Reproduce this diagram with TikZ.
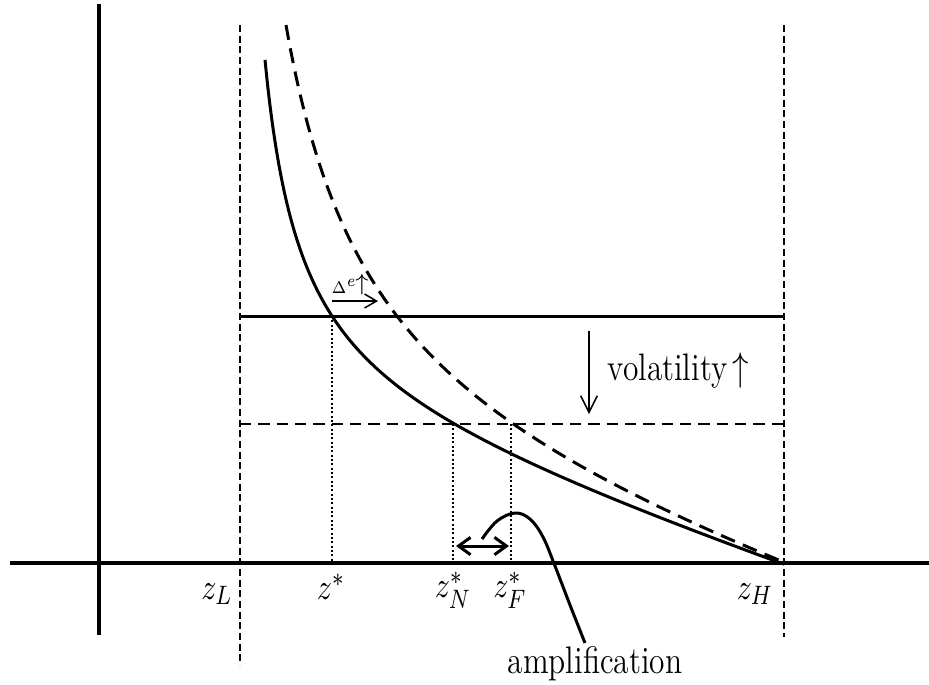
\documentclass[tikz,border=0pt]{standalone}
\usepackage{graphicx}
\usetikzlibrary{arrows.meta}
\newcommand{\sqz}[1]{\scalebox{0.82}[1]{#1}}
\begin{document}
\begin{tikzpicture}[x=0.3pt,y=-0.3pt,
  axis/.style={line width=1.1pt},
  curve/.style={line width=0.9pt},
  dcurve/.style={line width=0.9pt, dash pattern=on 4.5pt off 2.6pt},
  bnd/.style={line width=0.55pt, dash pattern=on 2.1pt off 1.1pt},
  guide/.style={line width=0.6pt, dash pattern=on 0.6pt off 0.7pt},
  hsolid/.style={line width=0.9pt},
  hdash/.style={line width=0.85pt, dash pattern=on 3.4pt off 2.1pt},
  lbl/.style={inner sep=0pt, font=\fontsize{11}{12}\selectfont},
  txt/.style={inner sep=0pt, font=\fontsize{11.5}{13}\selectfont}]
\useasboundingbox (0,0) rectangle (929,684);
% key coordinates
\coordinate (ytop) at (99,4);
\coordinate (ybot) at (99,635);
\coordinate (xl) at (10,563);
\coordinate (xr) at (929,563);
\coordinate (zLt) at (240,25);
\coordinate (zLb) at (240,665);
\coordinate (zHt) at (784,25);
\coordinate (zHb) at (784,637);
\coordinate (hsL) at (240,316);
\coordinate (hsR) at (784,316);
\coordinate (hdL) at (240,424);
\coordinate (hdR) at (784,424);
\coordinate (p1) at (332,316);
\coordinate (p1b) at (332,563);
\coordinate (p2) at (453,424);
\coordinate (p2b) at (453,563);
\coordinate (p3) at (511,424);
\coordinate (p3b) at (511,563);
% axes
\draw[axis] (ytop) -- (ybot);
\draw[axis] (xl) -- (xr);
% bounds
\draw[bnd] (zLt) -- (zLb);
\draw[bnd] (zHt) -- (zHb);
% horizontal lines
\draw[hsolid] (hsL) -- (hsR);
\draw[hdash] (hdL) -- (hdR);
% guides
\draw[guide] (p1) -- (p1b);
\draw[guide] (p2) -- (p2b);
\draw[guide] (p3) -- (p3b);
% solid curve
\draw[curve] plot[domain=265:784, samples=220, smooth] (\x, {335.1+0.322*\x-129.8/((\x-229)/100)});
% dashed curve
\draw[dcurve] plot[domain=286:784, samples=220, smooth] (\x, {391.6+0.3009*\x-380.23/((\x-202)/100)});
% Delta arrow
\coordinate (da1) at (332,301);
\coordinate (da2) at (378,301);
\draw[line width=0.45pt, -{Straight Barb[length=3.6pt,width=4.2pt]}] (da1) -- (da2);
\node[inner sep=0pt, anchor=base west, font=\fontsize{5.5}{6.5}\selectfont] (dl) at (331,293) {\sqz{$\Delta^{e}$}};
\node[inner sep=0pt, anchor=base, font=\fontsize{7.5}{8.5}\selectfont] (du) at (362,290) {$\uparrow$};
% volatility arrow
\coordinate (va1) at (589,331);
\coordinate (va2) at (589,414);
\draw[line width=0.45pt, -{Straight Barb[length=5pt,width=5pt]}] (va1) -- (va2);
\node[txt, anchor=base west] (vol) at (607,380) {\sqz{volatility\,$\uparrow$}};
% double arrow
\coordinate (aa1) at (456,546);
\coordinate (aa2) at (509,546);
\draw[line width=0.9pt, {Straight Barb[length=3.6pt,width=5.2pt]}-{Straight Barb[length=3.6pt,width=5.2pt]}] (aa1) -- (aa2);
% amplification curve
\draw[curve] plot[smooth, tension=0.6] coordinates {(482,539) (497,521) (515,513) (530,519) (543,537) (555,566) (570,605) (585,643)};
\node[txt, anchor=base] (amp) at (595,673) {\sqz{amplification}};
% labels
\node[lbl] (zL) at (217,594) {\sqz{$z_L$}};
\node[lbl] (zs) at (331,587) {\sqz{$z^{*}$}};
\node[lbl] (zN) at (453,590) {\sqz{$z_N^{*}$}};
\node[lbl] (zF) at (510,590) {\sqz{$z_F^{*}$}};
\node[lbl] (zH) at (755,594) {\sqz{$z_H$}};
\end{tikzpicture}
\end{document}
